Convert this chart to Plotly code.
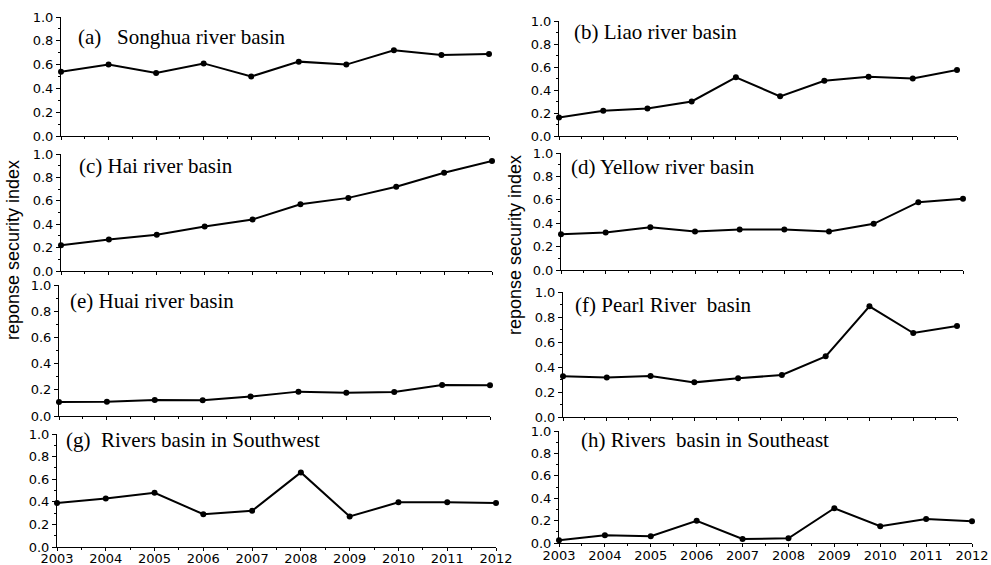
import plotly.graph_objects as go

# ---------------- data ----------------
years = [2003, 2004, 2005, 2006, 2007, 2008, 2009, 2010, 2011, 2012]
year_labels = ["2003", "2004", "2005", "2006", "2007", "2008", "2009", "2010", "2011", "2012"]

songhua = [0.54, 0.60, 0.53, 0.61, 0.50, 0.625, 0.60, 0.72, 0.68, 0.69]
liao = [0.16, 0.22, 0.24, 0.30, 0.51, 0.345, 0.48, 0.515, 0.50, 0.575]
hai = [0.22, 0.27, 0.31, 0.38, 0.44, 0.57, 0.625, 0.72, 0.84, 0.94]
yellow = [0.305, 0.32, 0.365, 0.33, 0.347, 0.347, 0.33, 0.395, 0.58, 0.61]
huai = [0.107, 0.109, 0.122, 0.12, 0.148, 0.186, 0.178, 0.183, 0.237, 0.234]
pearl = [0.325, 0.315, 0.328, 0.277, 0.309, 0.336, 0.485, 0.885, 0.672, 0.728]
southwest = [0.39, 0.43, 0.48, 0.29, 0.32, 0.66, 0.27, 0.395, 0.395, 0.39]
southeast = [0.025, 0.07, 0.06, 0.198, 0.036, 0.042, 0.31, 0.15, 0.215, 0.195]

panel_titles = [
    "(a)\u00a0\u00a0\u00a0Songhua river basin",
    "(b) Liao river basin",
    "(c) Hai river basin",
    "(d) Yellow river basin",
    "(e) Huai river basin",
    "(f) Pearl River\u00a0\u00a0basin",
    "(g)\u00a0\u00a0Rivers basin in Southwest",
    "(h) Rivers\u00a0\u00a0basin in Southeast",
]
series = [songhua, liao, hai, yellow, huai, pearl, southwest, southeast]
y_title = "reponse security index"

# ---------------- layout (pixel boxes) ----------------
W, H = 991, 565
# x0, x1, y_top(1.0), y_bottom(0.0)
boxes = [
    (61, 489, 17, 136),
    (559, 957, 21, 136),
    (61, 492, 154, 271),
    (561, 963, 153, 270),
    (59, 490, 285, 416),
    (563, 957, 292, 417),
    (57, 496, 434, 547),
    (559, 972, 431, 543),
]
title_pos = [
    (76, 37), (572, 32), (77, 166), (569, 167),
    (68, 301), (573, 305), (64, 440), (579, 440),
]
label_standoff = {6: -4, 7: -3}

fig = go.Figure()
layout = dict(
    width=W, height=H,
    margin=dict(l=0, r=0, t=0, b=0, autoexpand=False),
    paper_bgcolor="white", plot_bgcolor="white",
    showlegend=False,
    font=dict(family="DejaVu Sans", size=13, color="black"),
)

annotations = []
for i, (vals, box, ttl, tp) in enumerate(zip(series, boxes, panel_titles, title_pos)):
    n = i + 1
    xa = "x" if n == 1 else f"x{n}"
    ya = "y" if n == 1 else f"y{n}"
    fig.add_trace(go.Scatter(
        x=years, y=vals, xaxis=xa, yaxis=ya,
        mode="lines+markers",
        line=dict(color="black", width=2),
        marker=dict(color="black", size=6, symbol="circle"),
        cliponaxis=False,
    ))
    x0, x1, yt, yb = box
    bottom = i >= 6
    layout["xaxis" if n == 1 else f"xaxis{n}"] = dict(
        domain=[x0 / W, x1 / W], anchor=ya,
        range=[2003, 2012],
        tickmode="array", tickvals=years, ticktext=year_labels,
        showticklabels=bottom,
        ticks="outside", ticklen=3, tickwidth=1, tickcolor="black",
        ticklabelstandoff=label_standoff.get(i, 0),
        minor=dict(ticks="outside", ticklen=2, tickwidth=1, tickcolor="black",
                   tick0=2003.5, dtick=1),
        showline=True, linecolor="black", linewidth=1,
        showgrid=False, zeroline=False, automargin=False,
        tickfont=dict(family="DejaVu Sans", size=13, color="black"),
    )
    layout["yaxis" if n == 1 else f"yaxis{n}"] = dict(
        domain=[1 - yb / H, 1 - yt / H], anchor=xa,
        range=[0, 1],
        tickvals=[0, 0.2, 0.4, 0.6, 0.8, 1.0],
        tickformat=".1f",
        ticks="outside", ticklen=4, tickwidth=1, tickcolor="black",
        minor=dict(ticks="outside", ticklen=2, tickwidth=1, tickcolor="black",
                   tickvals=[0.1, 0.3, 0.5, 0.7, 0.9]),
        showline=True, linecolor="black", linewidth=1,
        showgrid=False, zeroline=False, automargin=False,
        tickfont=dict(family="DejaVu Sans", size=13, color="black"),
    )
    annotations.append(dict(
        text=ttl, xref="paper", yref="paper",
        x=tp[0] / W, y=1 - tp[1] / H,
        xanchor="left", yanchor="middle", showarrow=False,
        font=dict(family="Liberation Serif, Times New Roman, serif", size=21, color="black"),
    ))

for cx, cy in [(13, 250), (515, 245)]:
    annotations.append(dict(
        text=y_title, xref="paper", yref="paper",
        x=cx / W, y=1 - cy / H, xanchor="center", yanchor="middle",
        textangle=-90, showarrow=False,
        font=dict(family="Liberation Sans, Arial, sans-serif", size=18, color="black"),
    ))

layout["annotations"] = annotations
fig.update_layout(**layout)
fig.write_html(
    "out.html",
    config={"displayModeBar": False},
    post_script="document.body.style.margin='0px';document.body.style.overflow='hidden';",
)
